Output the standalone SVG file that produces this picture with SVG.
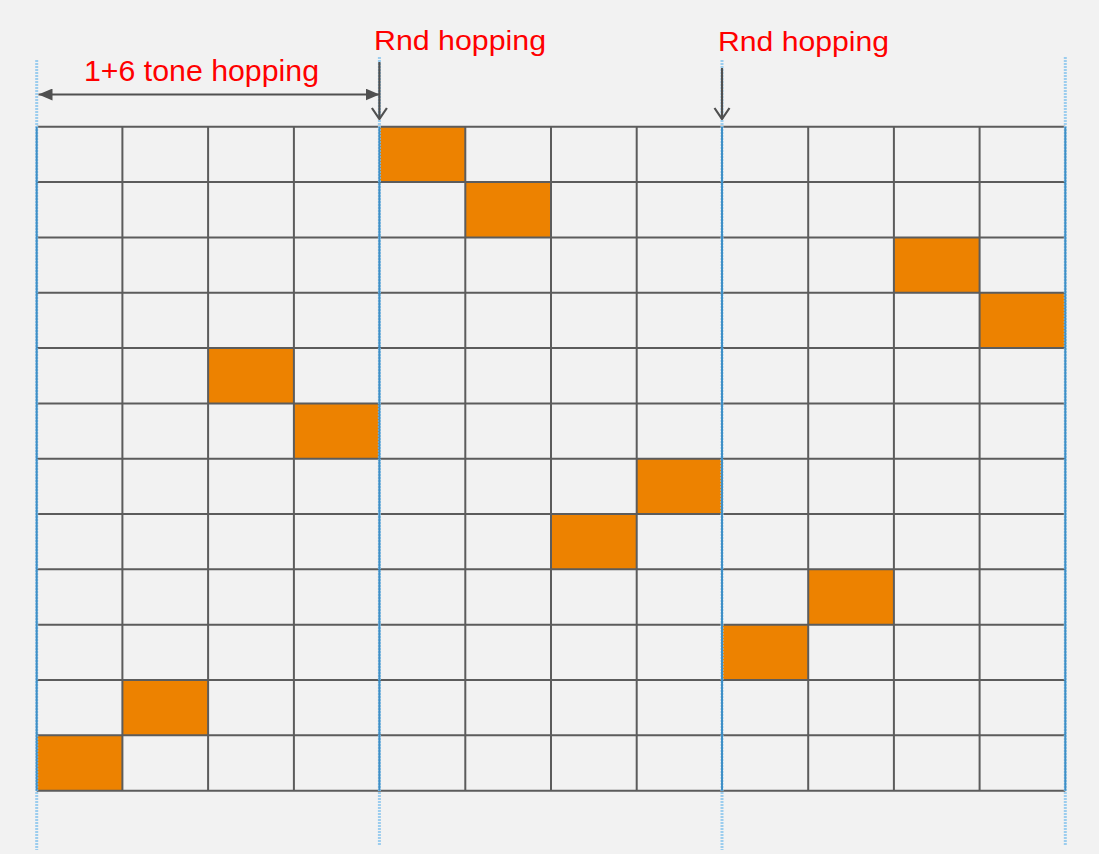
<svg xmlns="http://www.w3.org/2000/svg" width="1099" height="854" viewBox="0 0 1099 854">
  <style>
    .cell { fill: #ED8200; stroke: none; }
    .grid { stroke: #5c5c5c; stroke-width: 2; fill: none; }
    .slotOut { stroke: #9ccdee; stroke-width: 3; stroke-dasharray: 2 1; fill: none; }
    .slotIn { stroke: #3f8fc6; stroke-width: 2; fill: none; }
    .arrow { stroke: #505050; stroke-width: 2.2; fill: none; }
    .lbl { font-family: "Liberation Sans", Arial, sans-serif; fill: #ff0000; }
  </style>
  <defs>
    <marker id="tri" viewBox="0 0 14 12" refX="14" refY="6" markerWidth="14" markerHeight="12" markerUnits="userSpaceOnUse" orient="auto-start-reverse">
      <path d="M0,0 L14,6 L0,12 Z" fill="#505050"/>
    </marker>
    <marker id="vee" viewBox="0 0 13 18" refX="12" refY="9" markerWidth="13" markerHeight="18" markerUnits="userSpaceOnUse" orient="auto">
      <path d="M1,1.5 L12,9 L1,16.5" fill="none" stroke="#505050" stroke-width="2.2"/>
    </marker>
  </defs>
  <rect width="1099" height="854" fill="#f2f2f2"/>

  <g id="cells">
    <rect class="cell" x="379.6" y="126.7" width="85.7" height="55.3"/>
    <rect class="cell" x="465.3" y="182.0" width="85.7" height="55.4"/>
    <rect class="cell" x="893.9" y="237.4" width="85.7" height="55.3"/>
    <rect class="cell" x="979.6" y="292.7" width="85.7" height="55.3"/>
    <rect class="cell" x="208.1" y="348.0" width="85.8" height="55.4"/>
    <rect class="cell" x="293.9" y="403.4" width="85.7" height="55.3"/>
    <rect class="cell" x="636.7" y="458.7" width="85.8" height="55.3"/>
    <rect class="cell" x="551.0" y="514.0" width="85.7" height="55.3"/>
    <rect class="cell" x="808.2" y="569.3" width="85.7" height="55.4"/>
    <rect class="cell" x="722.5" y="624.7" width="85.7" height="55.3"/>
    <rect class="cell" x="122.4" y="680.0" width="85.7" height="55.3"/>
    <rect class="cell" x="36.7" y="735.3" width="85.7" height="55.4"/>
  </g>

  <g id="grid">
    <path class="grid" d="M36.7,126.7H1065.3 M36.7,182H1065.3 M36.7,237.4H1065.3 M36.7,292.7H1065.3 M36.7,348H1065.3 M36.7,403.4H1065.3 M36.7,458.7H1065.3 M36.7,514H1065.3 M36.7,569.3H1065.3 M36.7,624.7H1065.3 M36.7,680H1065.3 M36.7,735.3H1065.3 M36.7,790.7H1065.3"/>
    <path class="grid" d="M122.4,126.7V790.7 M208.1,126.7V790.7 M293.9,126.7V790.7 M465.3,126.7V790.7 M551,126.7V790.7 M636.7,126.7V790.7 M808.2,126.7V790.7 M893.9,126.7V790.7 M979.6,126.7V790.7"/>
  </g>

  <g id="slot-boundaries">
    <path class="slotOut" d="M36.7,60V850 M379.4,57V846 M722,60V850 M1065.3,57V846"/>
    <path class="slotIn" d="M36.7,126.7V790.7 M379.4,126.7V790.7 M722,126.7V790.7 M1065.3,126.7V790.7"/>
  </g>

  <g id="connectors">
    <line class="arrow" x1="38.5" y1="94.5" x2="379.5" y2="94.5" marker-start="url(#tri)" marker-end="url(#tri)"/>
    <line class="arrow" x1="379.4" y1="62" x2="379.4" y2="119" marker-end="url(#vee)"/>
    <line class="arrow" x1="722" y1="68" x2="722" y2="119" marker-end="url(#vee)"/>
  </g>

  <g id="labels">
    <text class="lbl" x="84" y="81" font-size="29" textLength="235" lengthAdjust="spacingAndGlyphs">1+6 tone hopping</text>
    <text class="lbl" x="374" y="50" font-size="27.5" textLength="172" lengthAdjust="spacingAndGlyphs">Rnd hopping</text>
    <text class="lbl" x="718" y="51" font-size="27.5" textLength="171" lengthAdjust="spacingAndGlyphs">Rnd hopping</text>
  </g>
</svg>
